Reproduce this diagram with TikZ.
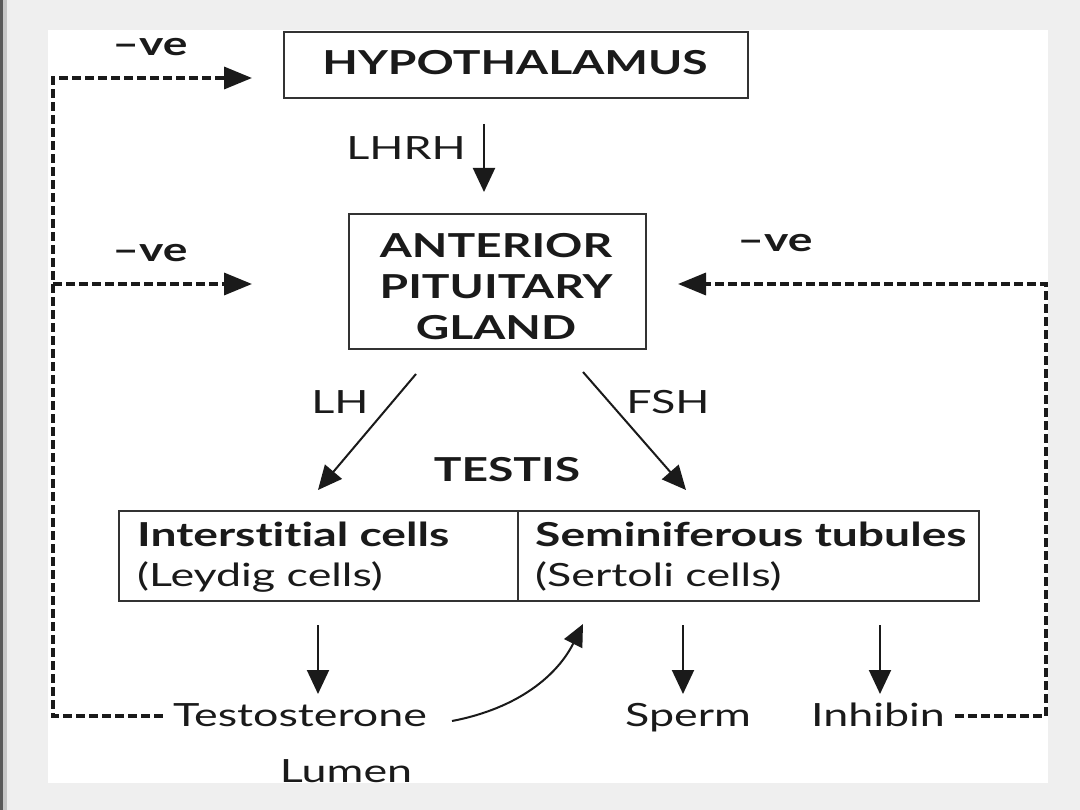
\documentclass[tikz,border=0pt]{standalone}
\usepackage{fontspec}
\setmainfont{Lato}[FakeStretch=1.4, Ligatures=NoCommon]
\usetikzlibrary{arrows.meta}
\definecolor{bg}{HTML}{EFEFEF}
\definecolor{ink}{HTML}{1A1A1A}
\definecolor{boxline}{HTML}{333333}
\begin{document}
\begin{tikzpicture}[x=1pt,y=-1pt,
  box/.style={draw=boxline, line width=2pt, inner sep=0pt, anchor=north west},
  lbl/.style={text=ink, inner sep=0pt, font=\fontsize{32}{40}\selectfont},
  blbl/.style={text=ink, inner sep=0pt, font=\fontsize{33}{41}\selectfont\bfseries},
  arr/.style={draw=ink, line width=2pt, -{Triangle[length=24pt,width=22pt]}},
  carr/.style={draw=ink, line width=2pt, -{Triangle[length=22pt,width=20pt]}},
  neg/.style={draw=ink, line width=3.5pt, dash pattern=on 9pt off 4pt, -{Triangle[length=28pt,width=22pt]}},
]
\fill[bg] (0,0) rectangle (1080,810);
\useasboundingbox (0,0) rectangle (1080,810);
\fill[gray!70!black] (0,0) rectangle (3,810);
\fill[gray!45] (3,0) rectangle (7,810);
\fill[white] (48,30) rectangle (1048,783);

% boxes
\node[box, minimum width=464pt, minimum height=66pt] (hyp) at (283,31) {};
\node[blbl, anchor=base] (hyptext) at (515,75) {HYPOTHALAMUS};
\node[box, minimum width=297pt, minimum height=135pt] (ap) at (348,213) {};
\node[blbl, anchor=base, align=center] (aptext) at (496,340) {ANTERIOR\\PITUITARY\\GLAND};
\node[box, minimum width=399pt, minimum height=90pt] (intl) at (118,510) {};
\node[box, minimum width=461pt, minimum height=90pt] (semi) at (517,510) {};
\node[blbl, anchor=base west] (intt) at (137,546) {Interstitial cells};
\node[lbl, anchor=base west] (leyd) at (137,586) {(Leydig cells)};
\node[blbl, anchor=base west] (semt) at (535,546) {Seminiferous tubules};
\node[lbl, anchor=base west] (sert) at (535,586) {(Sertoli cells)};

% labels
\node[blbl, anchor=base] (neg1) at (150,56) {–ve};
\node[blbl, anchor=base] (neg2) at (150,262) {–ve};
\node[blbl, anchor=base] (neg3) at (775,252) {–ve};
\node[lbl, anchor=base east] (lhrh) at (466,160) {LHRH};
\node[lbl, anchor=base] (lh) at (340,414) {LH};
\node[lbl, anchor=base] (fsh) at (668,414) {FSH};
\node[blbl, anchor=base] (testis) at (507,482) {TESTIS};
\node[lbl, anchor=base] (testo) at (300,726) {Testosterone};
\node[lbl, anchor=base] (sperm) at (688,726) {Sperm};
\node[lbl, anchor=base] (inhib) at (878,726) {Inhibin};
\node[lbl, anchor=base] (lumen) at (346,782) {Lumen};

% coordinates
\coordinate (cTL) at (53,78);
\coordinate (hypIn) at (252,78);
\coordinate (cML) at (53,284);
\coordinate (apInL) at (252,284);
\coordinate (cTR) at (1046,284);
\coordinate (apInR) at (678,284);
\coordinate (lhrhA) at (484,124);
\coordinate (lhrhB) at (484,192);
\coordinate (lhA) at (416,374);
\coordinate (lhB) at (318,490);
\coordinate (fshA) at (583,372);
\coordinate (fshB) at (686,490);
\coordinate (d1A) at (318,625);
\coordinate (d1B) at (318,694);
\coordinate (d2A) at (683,625);
\coordinate (d2B) at (683,694);
\coordinate (d3A) at (880,625);
\coordinate (d3B) at (880,694);
\coordinate (cvA) at (452,721);
\coordinate (cvB) at (583,624);

% arrows
\draw[arr] (lhrhA) -- (lhrhB);
\draw[arr] (lhA) -- (lhB);
\draw[arr] (fshA) -- (fshB);
\draw[arr] (d1A) -- (d1B);
\draw[arr] (d2A) -- (d2B);
\draw[arr] (d3A) -- (d3B);
\draw[carr] (cvA) .. controls (520,708) and (558,674) .. (cvB);

% feedback
\draw[neg] ([xshift=-10pt]testo.west |- 0,716) -| (cTL) -- (hypIn);
\draw[neg] (cML) -- (apInL);
\draw[neg] ([xshift=10pt]inhib.east |- 0,716) -| (cTR) -- (apInR);
\end{tikzpicture}
\end{document}
